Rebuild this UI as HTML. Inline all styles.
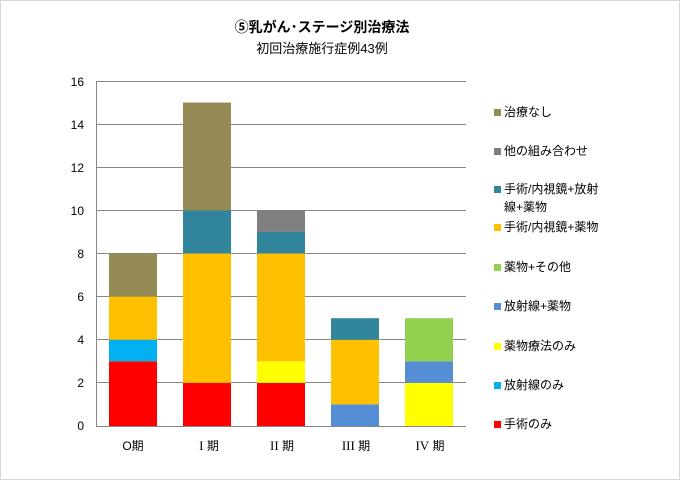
<!DOCTYPE html>
<html><head><meta charset="utf-8"><style>
html,body{margin:0;padding:0;background:#fff;}
svg{display:block;}
text{font-family:"Liberation Sans","Noto Sans CJK JP",sans-serif;fill:#000;}
.rn{font-family:"Liberation Serif",serif;font-size:13px;}
</style></head><body>
<svg width="680" height="480" viewBox="0 0 680 480" xmlns="http://www.w3.org/2000/svg">
<rect x="0.5" y="0.5" width="679" height="479" fill="#fff" stroke="#d9d9d9" stroke-width="1"/>
<text x="322" y="32" font-size="14" font-weight="bold" text-anchor="middle">⑤乳がん･ステージ別治療法</text>
<text x="322" y="53" font-size="13" text-anchor="middle">初回治療施行症例43例</text>
<g stroke="#868686" stroke-width="1">
<line x1="96" y1="81.5" x2="466" y2="81.5"/>
<line x1="96" y1="124.5" x2="466" y2="124.5"/>
<line x1="96" y1="167.5" x2="466" y2="167.5"/>
<line x1="96" y1="210.5" x2="466" y2="210.5"/>
<line x1="96" y1="253.5" x2="466" y2="253.5"/>
<line x1="96" y1="296.5" x2="466" y2="296.5"/>
<line x1="96" y1="339.5" x2="466" y2="339.5"/>
<line x1="96" y1="382.5" x2="466" y2="382.5"/>
<line x1="96" y1="426.5" x2="466" y2="426.5"/>
<line x1="96.5" y1="81" x2="96.5" y2="427"/>
</g>
<g font-size="12" text-anchor="end">
<text x="84" y="86">16</text>
<text x="84" y="129">14</text>
<text x="84" y="172">12</text>
<text x="84" y="215">10</text>
<text x="84" y="258">8</text>
<text x="84" y="301">6</text>
<text x="84" y="344">4</text>
<text x="84" y="387">2</text>
<text x="84" y="430">0</text>
</g>
<!-- O期 -->
<rect x="109" y="361.31" width="48" height="64.69" fill="#FF0000"/>
<rect x="109" y="339.75" width="48" height="21.56" fill="#00B0F0"/>
<rect x="109" y="296.625" width="48" height="43.125" fill="#FFC000"/>
<rect x="109" y="253.5" width="48" height="43.125" fill="#948A54"/>
<!-- I期 -->
<rect x="183" y="382.875" width="48" height="43.125" fill="#FF0000"/>
<rect x="183" y="253.5" width="48" height="129.375" fill="#FFC000"/>
<rect x="183" y="210.375" width="48" height="43.125" fill="#31859C"/>
<rect x="183" y="102.56" width="48" height="107.815" fill="#948A54"/>
<!-- II期 -->
<rect x="257" y="382.875" width="48" height="43.125" fill="#FF0000"/>
<rect x="257" y="361.31" width="48" height="21.565" fill="#FFFF00"/>
<rect x="257" y="253.5" width="48" height="107.81" fill="#FFC000"/>
<rect x="257" y="231.94" width="48" height="21.56" fill="#31859C"/>
<rect x="257" y="210.375" width="48" height="21.565" fill="#7F7F7F"/>
<!-- III期 -->
<rect x="331" y="404.44" width="48" height="21.56" fill="#558ED5"/>
<rect x="331" y="339.75" width="48" height="64.69" fill="#FFC000"/>
<rect x="331" y="318.19" width="48" height="21.56" fill="#31859C"/>
<!-- IV期 -->
<rect x="405" y="382.875" width="48" height="43.125" fill="#FFFF00"/>
<rect x="405" y="361.31" width="48" height="21.565" fill="#558ED5"/>
<rect x="405" y="318.19" width="48" height="43.12" fill="#92D050"/>
<g font-size="12" text-anchor="middle">
<text x="133" y="450">O期</text>
<text x="209" y="450"><tspan class="rn">I</tspan>  期</text>
<text x="282" y="450"><tspan class="rn">II</tspan>  期</text>
<text x="356" y="450"><tspan class="rn">III</tspan> 期</text>
<text x="430" y="450"><tspan class="rn">IV</tspan> 期</text>
</g>
<g font-size="12">
<rect x="494" y="109" width="7" height="7" fill="#948A54"/><text x="504" y="116">治療なし</text>
<rect x="494" y="148" width="7" height="7" fill="#7F7F7F"/><text x="504" y="155">他の組み合わせ</text>
<rect x="494" y="186" width="7" height="7" fill="#31859C"/><text x="504" y="193">手術/内視鏡+放射</text>
<text x="504" y="211">線+薬物</text>
<rect x="494" y="224" width="7" height="7" fill="#FFC000"/><text x="504" y="231">手術/内視鏡+薬物</text>
<rect x="494" y="264" width="7" height="7" fill="#92D050"/><text x="504" y="271">薬物+その他</text>
<rect x="494" y="303" width="7" height="7" fill="#558ED5"/><text x="504" y="310">放射線+薬物</text>
<rect x="494" y="343" width="7" height="7" fill="#FFFF00"/><text x="504" y="350">薬物療法のみ</text>
<rect x="494" y="382" width="7" height="7" fill="#00B0F0"/><text x="504" y="389">放射線のみ</text>
<rect x="494" y="421" width="7" height="7" fill="#FF0000"/><text x="504" y="428">手術のみ</text>
</g>
</svg>
</body></html>
